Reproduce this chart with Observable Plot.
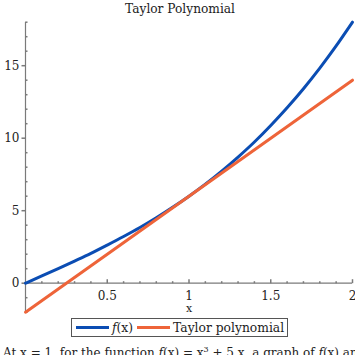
<!DOCTYPE html>
<html><head><meta charset="utf-8">
<script src="https://cdn.jsdelivr.net/npm/d3@7"></script>
<script src="https://cdn.jsdelivr.net/npm/@observablehq/plot@0.6"></script>
<style>
body{margin:0;width:355px;height:355px;overflow:hidden;background:#fff;font-family:"DejaVu Serif",serif;color:#222;position:relative}
#title{height:18px;line-height:18px;font-size:12.2px;text-align:center;padding-left:5px;box-sizing:border-box}
#chart{height:297px}
#legend{position:absolute;left:71px;top:318px;width:217px;height:19px;box-sizing:border-box;border:1.5px solid #555;display:flex;align-items:center;font-size:12.3px;padding-left:4px;white-space:nowrap}
.sw{display:inline-block;width:33px;height:3px;margin-right:3px;flex:none}
#caption{position:absolute;left:3px;top:343px;white-space:nowrap;font-size:12px;line-height:14px}
</style></head><body>
<div id="title">Taylor Polynomial</div>
<div id="chart"></div>
<div id="legend"><span class="sw" id="sw1"></span><span><i>f</i>(x)</span><span class="sw" id="sw2" style="margin-left:4px"></span><span>Taylor polynomial</span></div>
<div id="caption">At x = 1, for the function <i>f</i>(x) = x<sup style="font-size:8px">3</sup> + 5 x, a graph of <i>f</i>(x) and its Taylor polynomial of degree 1 is shown.</div>
<script>
const xs = [0,0.1,0.2,0.3,0.4,0.5,0.6,0.7,0.8,0.9,1,1.1,1.2,1.3,1.4,1.5,1.6,1.7,1.8,1.9,2];
const fx = [0,0.5,1.01,1.53,2.06,2.63,3.22,3.84,4.51,5.23,6,6.83,7.73,8.7,9.74,10.88,12.1,13.41,14.83,16.36,18];
const taylorX = [0,2];
const taylorY = [-2,14];
const xMajor = [0.5,1,1.5,2];
const xMinor = [0.1,0.2,0.3,0.4,0.6,0.7,0.8,0.9,1.1,1.2,1.3,1.4,1.6,1.7,1.8,1.9];
const yMajor = [0,5,10,15];
const yMinor = [-2,-1,1,2,3,4,6,7,8,9,11,12,13,14,16,17,18];
const blue = "#0b4db3", orange = "#ee6439", axisColor = "#7a7a7a";

document.getElementById("sw1").style.background = blue;
document.getElementById("sw2").style.background = orange;

const fData = xs.map((x,i)=>({x, y: fx[i]}));
const tData = taylorX.map((x,i)=>({x, y: taylorY[i]}));
const tickUp = len => ({draw(ctx){ctx.moveTo(0,0);ctx.lineTo(0,-len);}});
const tickLeft = len => ({draw(ctx){ctx.moveTo(0,0);ctx.lineTo(-len,0);}});
const tickRight = len => ({draw(ctx){ctx.moveTo(0,0);ctx.lineTo(len,0);}});

const chart = Plot.plot({
  width: 355, height: 297,
  marginTop: 3.7, marginBottom: 3.3, marginLeft: 25, marginRight: 3,
  x: {domain: [0,2], axis: null},
  y: {domain: [-2,18], axis: null},
  style: {fontFamily: "DejaVu Serif", fontSize: "12px", overflow: "visible", background: "transparent"},
  marks: [
    Plot.ruleY([0], {stroke: axisColor, strokeWidth: 1.2}),
    Plot.ruleX([0], {stroke: axisColor, strokeWidth: 1.2}),
    Plot.dot(xMajor, {x: d=>d, y: ()=>0, symbol: tickUp(4), stroke: axisColor, fill: "none"}),
    Plot.dot(xMinor, {x: d=>d, y: ()=>0, symbol: tickUp(2), stroke: axisColor, fill: "none"}),
    Plot.dot(yMajor, {x: ()=>0, y: d=>d, symbol: tickLeft(4), stroke: axisColor, fill: "none"}),
    Plot.dot(yMinor, {x: ()=>0, y: d=>d, symbol: tickRight(2), stroke: axisColor, fill: "none"}),
    Plot.text(xMajor, {x: d=>d, y: ()=>0, text: d=>String(d), dy: 13, fill: "#222"}),
    Plot.text(yMajor, {x: ()=>0, y: d=>d, text: d=>String(d), dx: -6, textAnchor: "end", fill: "#222"}),
    Plot.text(["x"], {x: ()=>1, y: ()=>0, text: d=>d, dy: 25, fill: "#222", fontSize: 11}),
    Plot.line(fData, {x: "x", y: "y", stroke: blue, strokeWidth: 3, curve: "monotone-x"}),
    Plot.line(tData, {x: "x", y: "y", stroke: orange, strokeWidth: 3})
  ]
});
document.getElementById("chart").appendChild(chart);
</script>
</body></html>
